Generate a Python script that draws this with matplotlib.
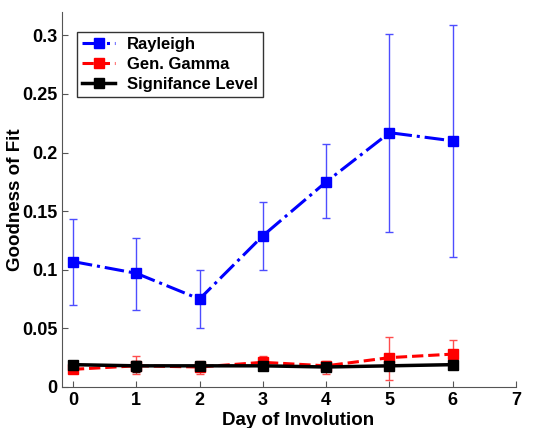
import matplotlib.pyplot as plt
import numpy as np

plt.rcParams['font.family'] = ['Liberation Sans', 'DejaVu Sans']
plt.rcParams['font.weight'] = 'bold'

days = [0, 1, 2, 3, 4, 5, 6]

rayleigh = [0.107, 0.097, 0.075, 0.129, 0.175, 0.217, 0.210]
rayleigh_lo = [0.070, 0.066, 0.050, 0.100, 0.144, 0.132, 0.111]
rayleigh_hi = [0.143, 0.127, 0.100, 0.158, 0.207, 0.301, 0.309]

gamma = [0.015, 0.018, 0.017, 0.021, 0.018, 0.025, 0.028]
gamma_lo = [0.012, 0.011, 0.011, 0.017, 0.011, 0.006, 0.016]
gamma_hi = [0.019, 0.026, 0.022, 0.026, 0.022, 0.043, 0.040]

signif = [0.019, 0.018, 0.018, 0.018, 0.017, 0.018, 0.019]
signif_lo = [0.017, 0.013, 0.015, 0.016, 0.015, 0.016, 0.017]
signif_hi = [0.021, 0.022, 0.021, 0.020, 0.019, 0.020, 0.021]


def yerr(v, lo, hi):
    v = np.array(v)
    return [v - np.array(lo), np.array(hi) - v]


fig = plt.figure(figsize=(5.45, 4.28), dpi=100)
ax = fig.add_axes([0.114, 0.096, 0.833, 0.876])

c1 = ax.errorbar(days, rayleigh, yerr=yerr(rayleigh, rayleigh_lo, rayleigh_hi),
                 color='#0000ff', ls='-.', lw=2.2, marker='s', ms=6.5,
                 elinewidth=1, ecolor='#4d4dff', capsize=3, capthick=1,
                 label='Rayleigh')
c2 = ax.errorbar(days, gamma, yerr=yerr(gamma, gamma_lo, gamma_hi),
                 color='#ff0000', ls='--', lw=2.2, marker='s', ms=6.5,
                 elinewidth=1, ecolor='#ff4d4d', capsize=3, capthick=1,
                 label='Gen. Gamma')
c3 = ax.errorbar(days, signif, yerr=yerr(signif, signif_lo, signif_hi),
                 color='black', ls='-', lw=2.5, marker='s', ms=6.5,
                 elinewidth=1, capsize=3, capthick=1,
                 label='Signifance Level')

ax.set_xlim(-0.17, 7)
ax.set_ylim(0, 0.32)
ax.set_xticks(range(8))
ax.set_yticks([0, 0.05, 0.1, 0.15, 0.2, 0.25, 0.3])
ax.set_yticklabels(['0', '0.05', '0.1', '0.15', '0.2', '0.25', '0.3'])
ax.tick_params(direction='in', labelsize=13, length=4, color='#555555')
for lbl in ax.get_xticklabels() + ax.get_yticklabels():
    lbl.set_fontweight('bold')
ax.spines['top'].set_visible(False)
ax.spines['right'].set_visible(False)
ax.spines['left'].set_color('#555555')
ax.spines['bottom'].set_color('#555555')

ax.set_xlabel('Day of Involution', fontsize=13.5, fontweight='bold')
ax.set_ylabel('Goodness of Fit', fontsize=13.5, fontweight='bold')
ax.xaxis.set_label_coords(0.52, -0.066, transform=ax.transAxes)
ax.xaxis.label.set_va('top')
ax.yaxis.set_label_coords(-0.084, 0.5)

leg = ax.legend([c1[0], c2[0], c3[0]],
                ['Rayleigh', 'Gen. Gamma', 'Signifance Level'],
                loc='upper left', bbox_to_anchor=(0.033, 0.947), borderaxespad=0,
                fontsize=12, frameon=True, fancybox=False, edgecolor='black',
                handlelength=2.0, borderpad=0.3, labelspacing=0.3,
                handletextpad=0.7)
leg.get_frame().set_linewidth(1)
for t in leg.get_texts():
    t.set_fontweight('bold')

fig.savefig('out.png', dpi=100)
